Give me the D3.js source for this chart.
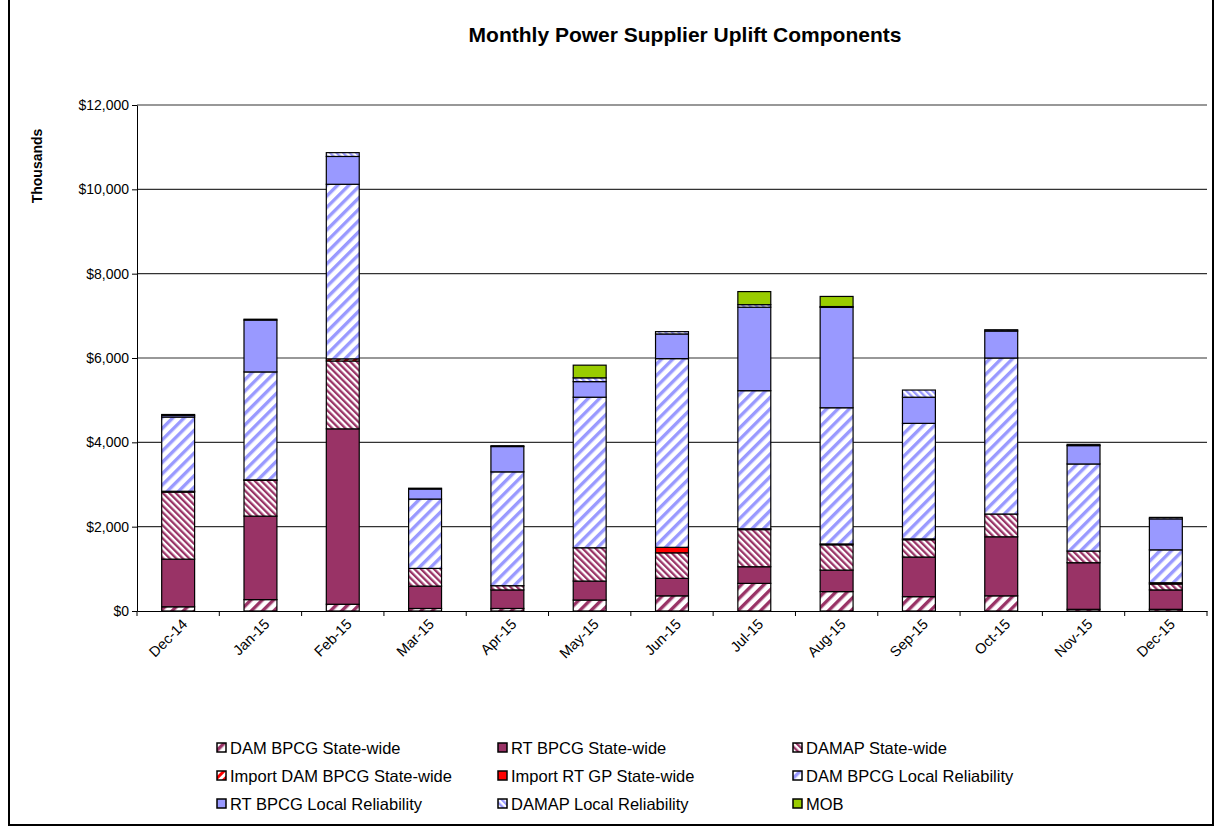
<!DOCTYPE html>
<html>
<head>
<meta charset="utf-8">
<script src="https://cdn.jsdelivr.net/npm/d3@7"></script>
<style>
  body { margin: 0; background: #fff; }
  svg { font-family: "Liberation Sans", Arial, sans-serif; }
</style>
</head>
<body>
<svg width="1217" height="828"></svg>
<script>
const months = ["Dec-14", "Jan-15", "Feb-15", "Mar-15", "Apr-15", "May-15", "Jun-15",
  "Jul-15", "Aug-15", "Sep-15", "Oct-15", "Nov-15", "Dec-15"];

// values in $ thousands
const damBpcgSW    = [100, 270, 160, 60, 60, 260, 360, 655, 460, 340, 360, 40, 40];
const rtBpcgSW     = [1130, 1980, 4160, 530, 440, 450, 415, 395, 510, 940, 1400, 1105, 460];
const damapSW      = [1590, 850, 1610, 420, 100, 790, 605, 880, 600, 410, 540, 277, 140];
const importDamSW  = [0, 0, 50, 0, 0, 0, 0, 0, 0, 0, 0, 0, 0];
const importRtGpSW = [20, 10, 0, 0, 0, 0, 130, 20, 20, 20, 0, 0, 30];
const damBpcgLR    = [1760, 2560, 4140, 1645, 2700, 3570, 4475, 3275, 3230, 2740, 3700, 2065, 780];
const rtBpcgLR     = [40, 1230, 660, 237, 600, 370, 585, 1980, 2380, 620, 640, 435, 735];
const damapLR      = [20, 20, 90, 20, 20, 90, 55, 60, 20, 170, 30, 30, 35];
const mob          = [0, 0, 0, 0, 0, 300, 0, 310, 240, 0, 0, 0, 0];

const yTicks = [0, 2000, 4000, 6000, 8000, 10000, 12000];

const seriesDefs = [
  { key: "DAM BPCG State-wide", values: damBpcgSW, fill: "url(#pMaroonUp)" },
  { key: "RT BPCG State-wide", values: rtBpcgSW, fill: "#993366" },
  { key: "DAMAP State-wide", values: damapSW, fill: "url(#pMaroonDown)" },
  { key: "Import DAM BPCG State-wide", values: importDamSW, fill: "url(#pRedUp)" },
  { key: "Import RT GP State-wide", values: importRtGpSW, fill: "#FF0000" },
  { key: "DAM BPCG Local Reliability", values: damBpcgLR, fill: "url(#pBlueUp)" },
  { key: "RT BPCG Local Reliability", values: rtBpcgLR, fill: "#9999FF" },
  { key: "DAMAP Local Reliability", values: damapLR, fill: "url(#pBlueDown)" },
  { key: "MOB", values: mob, fill: "#99CC00" }
];

const table = months.map((m, i) => {
  const row = { month: m };
  seriesDefs.forEach(s => { row[s.key] = s.values[i]; });
  return row;
});

const svg = d3.select("svg");

// hatch patterns
const defs = svg.append("defs");
const hatch = (id, color, size, thick, angle) => {
  const p = defs.append("pattern")
    .attr("id", id)
    .attr("patternUnits", "userSpaceOnUse")
    .attr("width", size)
    .attr("height", size)
    .attr("patternTransform", `rotate(${angle})`);
  p.append("rect").attr("width", size).attr("height", size).attr("fill", "#fff");
  p.append("rect").attr("width", thick).attr("height", size).attr("fill", color);
};
hatch("pBlueUp", "#9999FF", 8, 3.4, 45);
hatch("pMaroonUp", "#993366", 8, 3.4, 45);
hatch("pMaroonDown", "#993366", 4.6, 2.3, -45);
hatch("pRedUp", "#FF0000", 6, 3, 45);
hatch("pBlueDown", "#9999FF", 4.6, 2.3, -45);

// outer frame
svg.append("rect")
  .attr("x", 9).attr("y", -4)
  .attr("width", 1204).attr("height", 829)
  .attr("fill", "none").attr("stroke", "#000").attr("stroke-width", 2);

const plotL = 137, plotR = 1207, plotT = 105, plotB = 611;

const x = d3.scaleBand().domain(months).range([plotL, plotR])
  .paddingInner(0.6).paddingOuter(0.3);
const y = d3.scaleLinear().domain([0, 12000]).range([plotB, plotT]);

// gridlines
svg.append("g").selectAll("line").data(yTicks.slice(1)).join("line")
  .attr("x1", plotL).attr("x2", plotR)
  .attr("y1", d => y(d)).attr("y2", d => y(d))
  .attr("stroke", "#333").attr("stroke-width", 1.2);

// bars
const stack = d3.stack().keys(seriesDefs.map(s => s.key));
const layers = stack(table);

svg.append("g").selectAll("g").data(layers).join("g")
  .attr("fill", (d, i) => seriesDefs[i].fill)
  .selectAll("rect").data(d => d.filter(v => v[1] - v[0] > 0)).join("rect")
  .attr("x", d => x(d.data.month))
  .attr("width", x.bandwidth())
  .attr("y", d => y(d[1]))
  .attr("height", d => y(d[0]) - y(d[1]))
  .attr("stroke", "#000")
  .attr("stroke-width", 1.2);

// y axis
const yAxis = svg.append("g")
  .attr("transform", `translate(${plotL},0)`)
  .call(d3.axisLeft(y).tickValues(yTicks).tickFormat(d3.format("$,")).tickSize(5).tickSizeOuter(0));
yAxis.select(".domain").attr("stroke", "#000");
yAxis.selectAll(".tick line").attr("stroke", "#000");
yAxis.selectAll("text")
  .attr("font-size", 14).attr("fill", "#000").attr("x", -8)
  .attr("font-family", "Liberation Sans, Arial, sans-serif");

// x axis
const xAxis = svg.append("g")
  .attr("transform", `translate(0,${plotB})`)
  .call(d3.axisBottom(x).tickSize(0).tickSizeOuter(0));
xAxis.select(".domain").attr("stroke", "#000");
xAxis.selectAll("text")
  .attr("font-size", 14.5).attr("fill", "#000")
  .attr("font-family", "Liberation Sans, Arial, sans-serif")
  .attr("text-anchor", "end")
  .attr("dy", 0)
  .attr("transform", "translate(10,14) rotate(-45)")
  .attr("y", 0).attr("x", 0);

// category boundary ticks
const bounds = d3.range(months.length + 1).map(i => x(months[0]) - x.step() * x.paddingInner() / 2 + i * x.step());
svg.append("g").selectAll("line").data(bounds).join("line")
  .attr("x1", d => d).attr("x2", d => d)
  .attr("y1", plotB).attr("y2", plotB + 5)
  .attr("stroke", "#000");

// title
svg.append("text")
  .attr("x", 685).attr("y", 42)
  .attr("text-anchor", "middle")
  .attr("font-size", 21).attr("font-weight", "bold")
  .text("Monthly Power Supplier Uplift Components");

svg.append("text")
  .attr("transform", "translate(42,166) rotate(-90)")
  .attr("text-anchor", "middle")
  .attr("font-size", 14).attr("font-weight", "bold")
  .text("Thousands");

// legend
const legCols = [217, 498, 793];
const legRows = [748, 776, 804];
const leg = svg.append("g").selectAll("g").data(seriesDefs).join("g")
  .attr("transform", (d, i) => `translate(${legCols[i % 3]},${legRows[Math.floor(i / 3)]})`);
leg.append("rect")
  .attr("x", 0).attr("y", -5).attr("width", 9).attr("height", 9)
  .attr("fill", d => d.fill).attr("stroke", "#000").attr("stroke-width", 1.5);
leg.append("text")
  .attr("x", 13).attr("y", 6)
  .attr("font-size", 16.5)
  .text(d => d.key);
</script>
</body>
</html>
